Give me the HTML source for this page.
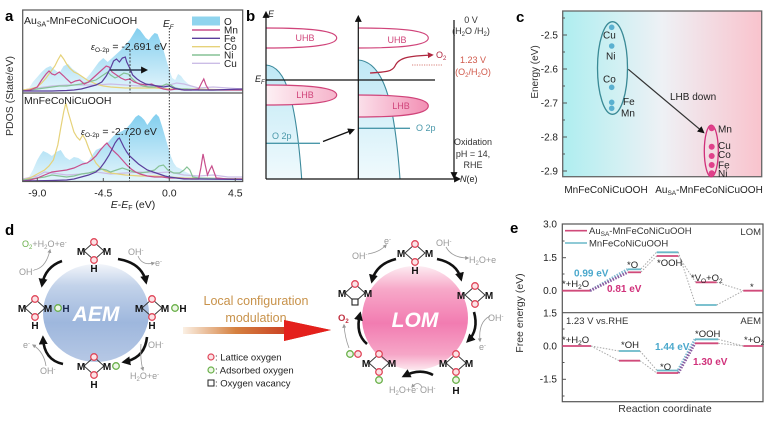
<!DOCTYPE html>
<html><head><meta charset="utf-8"><style>
html,body{margin:0;padding:0;background:#fff;}
svg{display:block;font-family:"Liberation Sans",Arial,sans-serif;}
</style></head><body>
<svg width="779" height="424" viewBox="0 0 779 424" xmlns="http://www.w3.org/2000/svg">
<defs>
  <linearGradient id="gO" x1="0" y1="0" x2="0" y2="1">
    <stop offset="0" stop-color="#6cc6ec"/><stop offset="1" stop-color="#dff3fb"/>
  </linearGradient>
  <linearGradient id="gBand" x1="0" y1="0" x2="0" y2="1">
    <stop offset="0" stop-color="#bfe8f5"/><stop offset="1" stop-color="#f0fafd"/>
  </linearGradient>
  <linearGradient id="gLHB1" x1="0" y1="0" x2="1" y2="0">
    <stop offset="0" stop-color="#fdf0f4"/><stop offset="1" stop-color="#f6b4cb"/>
  </linearGradient>
  <linearGradient id="gLHB2" x1="0" y1="0" x2="1" y2="0">
    <stop offset="0" stop-color="#fbe0ea"/><stop offset="1" stop-color="#f28fb4"/>
  </linearGradient>
  <linearGradient id="gC" x1="0" y1="0" x2="1" y2="0">
    <stop offset="0" stop-color="#aeeef0"/><stop offset="0.5" stop-color="#eef1f5"/><stop offset="1" stop-color="#f9c3cd"/>
  </linearGradient>
  <linearGradient id="gAEM" x1="0" y1="0" x2="0" y2="1">
    <stop offset="0" stop-color="#f2f5fa"/><stop offset="0.22" stop-color="#c3d3ea"/><stop offset="0.6" stop-color="#9eb7dd"/><stop offset="1" stop-color="#b6c8e5"/>
  </linearGradient>
  <linearGradient id="gLOM" x1="0" y1="0" x2="0" y2="1">
    <stop offset="0" stop-color="#fdecf2"/><stop offset="0.22" stop-color="#f7a9c9"/><stop offset="0.55" stop-color="#f27cb1"/><stop offset="0.85" stop-color="#f6a6c7"/><stop offset="1" stop-color="#fde8ef"/>
  </linearGradient>
  <linearGradient id="gArr" x1="183" y1="0" x2="300" y2="0" gradientUnits="userSpaceOnUse">
    <stop offset="0" stop-color="#fbf0e4"/><stop offset="0.45" stop-color="#d58140"/><stop offset="1" stop-color="#c8301c"/>
  </linearGradient>
  <clipPath id="clipA1"><rect x="23" y="10" width="219.5" height="83"/></clipPath>
  <clipPath id="clipA2"><rect x="23" y="93" width="219.5" height="88.5"/></clipPath>
  <marker id="ak" viewBox="0 0 10 10" refX="7" refY="5" markerWidth="7" markerHeight="7" markerUnits="userSpaceOnUse" orient="auto"><path d="M0,0 L10,5 L0,10 z" fill="#111"/></marker>
  <marker id="akb" viewBox="0 0 10 10" refX="7" refY="5" markerWidth="9" markerHeight="9" markerUnits="userSpaceOnUse" orient="auto"><path d="M0,0 L10,5 L0,10 z" fill="#111"/></marker>
  <marker id="ag" viewBox="0 0 10 10" refX="7" refY="5" markerWidth="4" markerHeight="4" markerUnits="userSpaceOnUse" orient="auto"><path d="M0,0 L10,5 L0,10 z" fill="#999"/></marker>
  <marker id="ar" viewBox="0 0 10 10" refX="7" refY="5" markerWidth="6" markerHeight="6" markerUnits="userSpaceOnUse" orient="auto"><path d="M0,0 L10,5 L0,10 z" fill="#b02840"/></marker>
</defs>

<!-- ================= PANEL A ================= -->
<text x="5" y="21" font-size="15" font-weight="bold">a</text>
<g clip-path="url(#clipA1)">
 <g transform="translate(169.3 0) scale(14.67 1)">
  <polygon fill="url(#gO)" opacity="0.85" points="-10,91.7 -9.6,89 -9.3,82 -9,77 -8.7,72 -8.4,68 -8.1,66 -7.8,70 -7.5,73 -7.2,66 -6.9,64 -6.6,69 -6.3,72 -6,76 -5.7,79 -5.4,74 -5.1,68 -4.8,62 -4.5,58 -4.2,62 -3.9,58 -3.6,54 -3.3,50 -3,45 -2.7,40 -2.4,33 -2.2,28 -2,30 -1.8,34 -1.6,38 -1.4,40 -1.2,36 -1,33 -0.8,34 -0.6,42 -0.4,50 -0.2,60 0,70 0.2,78 0.4,80 0.6,74 0.8,76 1,80 1.3,84 1.6,86 2,88 3,89 4,90 5,90.5 5,91.7"/>
  <g fill="none" stroke-width="1.2" vector-effect="non-scaling-stroke">
  <polyline vector-effect="non-scaling-stroke" stroke="#cbbde6" points="-10,90 -9,88 -8,86 -7,85 -6,85 -5,85 -4,84 -3,85 -2,86 -1,86 0,85 0.5,83 1,84 1.5,86 2,88 3,87 4,88 5,89"/>
  <polyline vector-effect="non-scaling-stroke" stroke="#e6d27a" points="-10,90 -9.5,89 -9,87 -8.7,83 -8.4,78 -8.1,72 -7.8,66 -7.6,60 -7.4,55 -7.2,59 -7,64 -6.8,68 -6.5,72 -6.2,74 -5.9,77 -5.6,80 -5.3,82 -5,84 -4.5,86 -4,87 -3,88 -2,88 -1,88 0,89 1,89 5,90"/>
  <polyline vector-effect="non-scaling-stroke" stroke="#86c296" points="-10,91 -9,89 -8.5,88 -8,87 -7.5,86 -7,86 -6.5,85 -6,84 -5.5,82 -5,80 -4.7,77 -4.4,74 -4.2,72 -4,75 -3.7,78 -3.4,76 -3.1,73 -2.8,74 -2.5,79 -2.2,83 -1.8,86 -1.4,87 -1,87 -0.5,86 -0.2,84 0.1,85 0.4,88 0.8,89 1.2,89 2,90 5,90"/>
  <polyline vector-effect="non-scaling-stroke" stroke="#c84e8c" points="-10,91 -9.5,90 -9,87 -8.7,80 -8.4,74 -8.2,71 -8,74 -7.8,75 -7.5,72 -7.2,76 -7,79 -6.7,83 -6.4,81 -6.1,80 -5.8,84 -5.5,82 -5.2,78 -4.9,74 -4.6,70 -4.3,66 -4.1,67 -3.9,72 -3.6,75 -3.3,78 -3,80 -2.7,79 -2.4,82 -2,84 -1.6,85 -1.2,84 -0.8,87 -0.4,89 0,90 0.5,89 1,90 1.5,90 2,89 2.2,83 2.35,79 2.5,85 2.7,90 3,90 4,90 5,90"/>
  <polyline vector-effect="non-scaling-stroke" stroke="#5a3e9c" points="-10,91 -8,91 -7,90.5 -6.5,90 -6,89 -5.5,87 -5,85 -4.6,82 -4.3,76 -4,68 -3.8,61 -3.6,59 -3.4,62 -3.2,58 -3,57 -2.9,62 -2.7,68 -2.5,75 -2.2,79 -2,81 -1.6,84 -1.2,85 -0.8,86 -0.4,87 0,86 0.3,88 0.6,89 1,90 2,90 3,90 4,89.5 5,89"/>
  </g>
 </g>
</g>
<g clip-path="url(#clipA2)">
 <g transform="translate(169.3 0) scale(14.67 1)">
  <polygon fill="url(#gO)" opacity="0.85" points="-10,181 -9.6,178 -9.3,170 -9,160 -8.8,155 -8.6,151 -8.3,153 -8,156 -7.7,152 -7.4,150 -7.1,157 -6.8,160 -6.5,157 -6.2,158 -5.9,161 -5.6,163 -5.3,156 -5,150 -4.7,148 -4.4,146 -4.1,141 -3.8,136 -3.5,133 -3.2,131 -2.9,128 -2.6,123 -2.3,117 -2.1,115 -1.9,117 -1.7,120 -1.5,125 -1.3,121 -1.1,117 -0.9,114 -0.7,117 -0.5,126 -0.3,136 -0.1,146 0.1,156 0.3,163 0.5,167 0.8,169 1,171 1.4,174 1.8,176 2.5,178 4,179 5,179.5 5,181"/>
  <g fill="none" stroke-width="1.2">
  <polyline vector-effect="non-scaling-stroke" stroke="#cbbde6" points="-10,179 -9,176 -8.5,172 -8,173 -7,175 -6,174 -5,172 -4,174 -3,173 -2,172 -1,173 0,172 1,175 2,176 3,175 4,177 5,177"/>
  <polyline vector-effect="non-scaling-stroke" stroke="#e6d27a" points="-10,180 -9.5,178 -9,174 -8.5,170 -8.2,166 -7.9,160 -7.6,145 -7.4,128 -7.2,112 -7.05,103 -6.9,112 -6.7,122 -6.5,132 -6.3,137 -6.1,140 -5.9,135 -5.7,140 -5.5,148 -5.3,155 -5,163 -4.7,168 -4.4,171 -4,173 -3,175 -2,176 -1,176 0,177 1,178 5,179"/>
  <polyline vector-effect="non-scaling-stroke" stroke="#86c296" points="-10,180 -9,178 -8.5,177 -8,175 -7.5,176 -7,177 -6.5,176 -6,174 -5.5,173 -5,171 -4.6,169 -4.3,170 -4,172 -3.6,170 -3.2,168 -2.8,170 -2.4,172 -2,173 -1.5,172 -1,170 -0.7,166 -0.4,165 -0.1,170 0.3,173 0.7,173 1,170 1.2,167 1.4,170 1.6,177 2,178 5,179"/>
  <polyline vector-effect="non-scaling-stroke" stroke="#c84e8c" points="-10,181 -9.5,180 -9,178 -8.5,175 -8,172 -7.5,171 -7,170 -6.5,168 -6.2,166 -5.9,164 -5.6,163 -5.3,160 -5,156 -4.7,150 -4.4,145 -4.25,143 -4.1,146 -3.8,151 -3.5,155 -3.2,160 -2.9,165 -2.6,169 -2.3,172 -2,174 -1.5,176 -1,177 -0.5,177 0,178 0.5,178 1,178.5 1.5,179 2,179 2.15,168 2.3,154 2.45,165 2.6,175 2.75,170 2.9,166 3.05,172 3.2,178 4,179 5,179"/>
  <polyline vector-effect="non-scaling-stroke" stroke="#5a3e9c" points="-10,181 -8,180.5 -7,180 -6.5,179 -6,177 -5.5,175 -5,172 -4.7,168 -4.4,162 -4.1,155 -3.9,149 -3.7,143 -3.5,139 -3.4,138 -3.3,141 -3.1,147 -2.9,152 -2.7,156 -2.4,160 -2.1,164 -1.8,167 -1.5,170 -1.1,172 -0.7,174 -0.3,176 0,177 0.5,178 1,179 2,179 5,179.5"/>
  </g>
 </g>
</g>
<!-- frame a -->
<rect x="22.7" y="10" width="220" height="171.5" fill="none" stroke="#555" stroke-width="1.2"/>
<line x1="22.7" y1="93" x2="242.7" y2="93" stroke="#555" stroke-width="1.2"/>
<line x1="169.3" y1="28" x2="169.3" y2="181" stroke="#222" stroke-width="0.9" stroke-dasharray="1.5,1.5"/>
<line x1="130" y1="50" x2="130" y2="93" stroke="#333" stroke-width="0.9" stroke-dasharray="2,1.5"/>
<line x1="129.5" y1="135" x2="129.5" y2="181" stroke="#333" stroke-width="0.9" stroke-dasharray="2,1.5"/>
<line x1="110" y1="70" x2="146" y2="70" stroke="#2a3a50" stroke-width="1.6" marker-end="url(#ak)"/>
<g stroke="#555" stroke-width="1">
 <line x1="37.3" y1="181.5" x2="37.3" y2="178"/><line x1="103.3" y1="181.5" x2="103.3" y2="178"/>
 <line x1="169.3" y1="181.5" x2="169.3" y2="178"/><line x1="235.3" y1="181.5" x2="235.3" y2="178"/>
</g>
<g font-size="10.5" fill="#222" text-anchor="middle">
 <text x="37.3" y="196.5">-9.0</text><text x="103.3" y="196.5">-4.5</text>
 <text x="169.3" y="196.5">0.0</text><text x="235.3" y="196.5">4.5</text>
</g>
<text x="133" y="208" font-size="10.5" text-anchor="middle" fill="#222"><tspan font-style="italic">E</tspan>-<tspan font-style="italic">E</tspan><tspan font-size="7" dy="2">F</tspan><tspan dy="-2"> (eV)</tspan></text>
<text transform="translate(13 96) rotate(-90)" font-size="10.5" text-anchor="middle" fill="#333">PDOS (State/eV)</text>
<text x="24" y="24" font-size="10.5" fill="#222">Au<tspan font-size="7" dy="2.5">SA</tspan><tspan dy="-2.5">-MnFeCoNiCuOOH</tspan></text>
<text x="24" y="104" font-size="10.5" fill="#222">MnFeCoNiCuOOH</text>
<text x="163" y="27" font-size="10" font-style="italic" fill="#222">E<tspan font-size="6.5" dy="2">F</tspan></text>
<text x="91" y="50" font-size="10.5" fill="#222"><tspan font-style="italic" font-size="9">ε</tspan><tspan font-size="6.5" dy="2">O-2p</tspan><tspan dy="-2"> = -2.691 eV</tspan></text>
<text x="81" y="135" font-size="10.5" fill="#222"><tspan font-style="italic" font-size="9">ε</tspan><tspan font-size="6.5" dy="2">O-2p</tspan><tspan dy="-2"> = -2.720 eV</tspan></text>
<!-- legend a -->
<rect x="192" y="16.5" width="28" height="9" fill="#8fd4ee"/>
<g stroke-width="1.4">
 <line x1="192" y1="30" x2="220" y2="30" stroke="#c84e8c"/>
 <line x1="192" y1="38.3" x2="220" y2="38.3" stroke="#5a3e9c"/>
 <line x1="192" y1="46.7" x2="220" y2="46.7" stroke="#e6d27a"/>
 <line x1="192" y1="55" x2="220" y2="55" stroke="#86c296"/>
 <line x1="192" y1="63.3" x2="220" y2="63.3" stroke="#cbbde6"/>
</g>
<g font-size="10" fill="#222">
 <text x="224" y="25">O</text><text x="224" y="33.5">Mn</text><text x="224" y="41.8">Fe</text>
 <text x="224" y="50.2">Co</text><text x="224" y="58.5">Ni</text><text x="224" y="66.8">Cu</text>
</g>

<!-- ================= PANEL B ================= -->
<text x="246" y="21" font-size="15" font-weight="bold">b</text>
<path d="M266,65 C286,66 296,100 301.7,179 L266,179 Z" fill="url(#gBand)"/>
<path d="M266,65 C286,66 296,100 301.7,179" fill="none" stroke="#3d8a9c" stroke-width="1.1"/>
<path d="M358.3,60 C386,62 395,110 400,179 L358.3,179 Z" fill="url(#gBand)"/>
<path d="M358.3,60 C386,62 395,110 400,179" fill="none" stroke="#3d8a9c" stroke-width="1.1"/>
<path d="M266,28 C305,28 336.7,30 336.7,38 C336.7,46 305,48 266,48" fill="#fff" stroke="#d0447a" stroke-width="1.2"/>
<path d="M266,85 C305,85 336.7,87 336.7,95 C336.7,103 305,105 266,105" fill="url(#gLHB1)" stroke="#d0447a" stroke-width="1.2"/>
<path d="M358.3,28 C397,28 428.3,30 428.3,38 C428.3,46 397,48 358.3,48" fill="#fff" stroke="#d0447a" stroke-width="1.2"/>
<path d="M358.3,95 C397,95 428.3,97 428.3,106 C428.3,115 397,117 358.3,117" fill="url(#gLHB2)" stroke="#d0447a" stroke-width="1.2"/>
<line x1="266" y1="143.3" x2="320" y2="143.3" stroke="#4a98aa" stroke-width="1.3"/>
<line x1="358.3" y1="128.3" x2="410" y2="128.3" stroke="#4a98aa" stroke-width="1.3"/>
<line x1="323" y1="141.5" x2="353" y2="130" stroke="#111" stroke-width="1.4" marker-end="url(#ak)"/>
<line x1="266" y1="80" x2="435" y2="80" stroke="#111" stroke-width="1.2"/>
<line x1="266" y1="179" x2="266" y2="13" stroke="#111" stroke-width="1.2" marker-end="url(#ak)"/>
<line x1="358.3" y1="179" x2="358.3" y2="17" stroke="#111" stroke-width="1.2" marker-end="url(#ak)"/>
<line x1="266" y1="179" x2="459" y2="179" stroke="#111" stroke-width="1.2" marker-end="url(#ak)"/>
<line x1="454" y1="20" x2="454" y2="177" stroke="#222" stroke-width="1.3" marker-end="url(#ak)"/>
<path d="M370,73 C385,72 392,72 395,66 C399,57 410,56 432,55" fill="none" stroke="#b02840" stroke-width="1.3" marker-end="url(#ar)"/>
<line x1="412" y1="65" x2="442" y2="65" stroke="#d8807a" stroke-width="1" stroke-dasharray="1.2,1.2"/>
<g font-size="9" fill="#d0447a" text-anchor="middle">
 <text x="305" y="41">UHB</text><text x="305" y="98">LHB</text>
 <text x="397" y="43">UHB</text><text x="401" y="109">LHB</text>
</g>
<g font-size="9" fill="#4a98aa">
 <text x="272" y="139">O 2p</text><text x="416" y="131">O 2p</text>
</g>
<text x="436" y="58" font-size="9" fill="#b02840">O<tspan font-size="6" dy="2">2</tspan></text>
<text x="268" y="17" font-size="9" font-style="italic" fill="#222">E</text>
<text x="255" y="82" font-size="9" font-style="italic" fill="#222">E<tspan font-size="6" dy="2">F</tspan></text>
<text x="460" y="182" font-size="9" fill="#222"><tspan font-style="italic">N</tspan>(e)</text>
<g font-size="9" fill="#333" text-anchor="middle">
 <text x="471" y="23">0 V</text>
 <text x="471" y="34">(H<tspan font-size="6" dy="2">2</tspan><tspan dy="-2">O /H</tspan><tspan font-size="6" dy="2">2</tspan><tspan dy="-2">)</tspan></text>
 <text x="473" y="63" fill="#d0584a">1.23 V</text>
 <text x="473" y="75" fill="#d0584a">(O<tspan font-size="6" dy="2">2</tspan><tspan dy="-2">/H</tspan><tspan font-size="6" dy="2">2</tspan><tspan dy="-2">O)</tspan></text>
 <text x="473" y="145">Oxidation</text>
 <text x="473" y="157">pH = 14,</text>
 <text x="473" y="168">RHE</text>
</g>

<!-- ================= PANEL C ================= -->
<text x="516" y="22" font-size="15" font-weight="bold">c</text>
<rect x="562.7" y="11" width="199" height="165.7" fill="url(#gC)" stroke="#666" stroke-width="1.3"/>
<g stroke="#555" stroke-width="1">
 <line x1="562.7" y1="35" x2="567" y2="35"/><line x1="562.7" y1="69" x2="567" y2="69"/>
 <line x1="562.7" y1="103" x2="567" y2="103"/><line x1="562.7" y1="137" x2="567" y2="137"/>
 <line x1="562.7" y1="171" x2="567" y2="171"/>
 <line x1="562.7" y1="18" x2="565" y2="18"/><line x1="562.7" y1="52" x2="565" y2="52"/>
 <line x1="562.7" y1="86" x2="565" y2="86"/><line x1="562.7" y1="120" x2="565" y2="120"/>
 <line x1="562.7" y1="154" x2="565" y2="154"/>
</g>
<g font-size="10" fill="#222" text-anchor="end">
 <text x="558" y="38.5">-2.5</text><text x="558" y="72.5">-2.6</text><text x="558" y="106.5">-2.7</text>
 <text x="558" y="140.5">-2.8</text><text x="558" y="174.5">-2.9</text>
</g>
<text transform="translate(538 72) rotate(-90)" font-size="10" text-anchor="middle" fill="#333">Energy (eV)</text>
<ellipse cx="612.5" cy="68" rx="15" ry="46.3" fill="none" stroke="#3a8a96" stroke-width="1.3"/>
<ellipse cx="711.3" cy="151" rx="7" ry="25.8" fill="none" stroke="#d0307a" stroke-width="1.3"/>
<g fill="#5ab0d0">
 <circle cx="611.7" cy="27.3" r="2.8"/><circle cx="611.7" cy="46" r="2.8"/><circle cx="611.7" cy="87.3" r="2.8"/>
 <circle cx="611.7" cy="102.3" r="2.8"/><circle cx="611.7" cy="108.3" r="2.8"/>
</g>
<g fill="#e0408a">
 <circle cx="711.7" cy="128.3" r="3"/><circle cx="711.7" cy="146.7" r="3"/><circle cx="711.7" cy="156" r="3"/>
 <circle cx="711.7" cy="165" r="3"/><circle cx="711.7" cy="173.3" r="3"/>
</g>
<g font-size="10" fill="#222">
 <text x="603" y="38.5">Cu</text><text x="606" y="59.5">Ni</text><text x="603" y="82.5">Co</text>
 <text x="623" y="105">Fe</text><text x="621" y="116.5">Mn</text>
 <text x="718" y="132.5">Mn</text><text x="718" y="149">Cu</text><text x="718" y="158">Co</text>
 <text x="718" y="168.5">Fe</text><text x="718" y="177">Ni</text>
</g>
<line x1="628.3" y1="69.3" x2="703" y2="132" stroke="#333" stroke-width="1.2" marker-end="url(#ak)"/>
<text x="670" y="100" font-size="10" fill="#222">LHB down</text>
<text x="606" y="193" font-size="10" fill="#222" text-anchor="middle">MnFeCoNiCuOOH</text>
<text x="709" y="193" font-size="10" fill="#222" text-anchor="middle">Au<tspan font-size="6.5" dy="2">SA</tspan><tspan dy="-2">-MnFeCoNiCuOOH</tspan></text>

<!-- ================= PANEL D ================= -->
<text x="5" y="235" font-size="15" font-weight="bold">d</text>
<ellipse cx="96" cy="313" rx="53" ry="49" fill="url(#gAEM)"/>
<text x="96" y="321" font-size="21" font-weight="bold" font-style="italic" fill="#fff" text-anchor="middle">AEM</text>
<!-- AEM arrows -->
<g fill="none" stroke="#111" stroke-width="2.6">
 <path d="M62,261 Q45,267 42,285" marker-end="url(#akb)"/>
 <path d="M118,259 Q142,263 146,282" marker-end="url(#akb)"/>
 <path d="M147,337 Q145,358 124,362" marker-end="url(#akb)"/>
 <path d="M63,364 Q44,360 43,338" marker-end="url(#akb)"/>
</g>
<g fill="none" stroke="#999" stroke-width="0.8">
 <path d="M34,270 Q46,268 50,250" marker-end="url(#ag)"/>
 <path d="M138,256 Q142,266 154,263" marker-end="url(#ag)"/>
 <path d="M141,344 Q140,360 143,370" marker-end="url(#ag)"/>
 <path d="M46,366 Q44,352 33,345" marker-end="url(#ag)"/>
</g>
<g font-size="9" fill="#999">
 <text x="22" y="247"><tspan fill="#6ab04a">O</tspan><tspan fill="#6ab04a" font-size="6" dy="2">2</tspan><tspan dy="-2">+H</tspan><tspan font-size="6" dy="2">2</tspan><tspan dy="-2">O+e</tspan><tspan font-size="6" dy="-3">-</tspan></text>
 <text x="19" y="275">OH<tspan font-size="6" dy="-3">-</tspan></text>
 <text x="128" y="255">OH<tspan font-size="6" dy="-3">-</tspan></text>
 <text x="155" y="266">e<tspan font-size="6" dy="-3">-</tspan></text>
 <text x="148" y="348">OH<tspan font-size="6" dy="-3">-</tspan></text>
 <text x="130" y="379">H<tspan font-size="6" dy="2">2</tspan><tspan dy="-2">O+e</tspan><tspan font-size="6" dy="-3">-</tspan></text>
 <text x="23" y="348">e<tspan font-size="6" dy="-3">-</tspan></text>
 <text x="40" y="374">OH<tspan font-size="6" dy="-3">-</tspan></text>
</g>
<!-- AEM molecules -->
<g stroke="#333" stroke-width="0.9" fill="none">
 <path d="M84,251 L94,242 L104,251 L94,260 Z"/>
 <path d="M25,308 L35,299 L45,308 L35,317 Z"/>
 <path d="M142,308 L152,299 L162,308 L152,317 Z"/>
 <path d="M84,366 L94,357 L104,366 L94,375 Z"/>
</g>
<g stroke="#e0475a" stroke-width="1.3" fill="#fbe3e6">
 <circle cx="94" cy="242" r="3.3"/><circle cx="94" cy="260" r="3.3"/>
 <circle cx="35" cy="299" r="3.3"/><circle cx="35" cy="317" r="3.3"/>
 <circle cx="152" cy="299" r="3.3"/><circle cx="152" cy="317" r="3.3"/>
 <circle cx="94" cy="357" r="3.3"/><circle cx="94" cy="375" r="3.3"/>
</g>
<g stroke="#6ab04a" stroke-width="1.3" fill="#eef7e6">
 <circle cx="58" cy="308" r="3.3"/><circle cx="175" cy="308" r="3.3"/><circle cx="116" cy="366" r="3.3"/>
</g>
<g font-size="10" font-weight="bold" fill="#111" text-anchor="middle">
 <text x="81" y="255">M</text><text x="107" y="255">M</text><text x="94" y="272">H</text>
 <text x="22" y="312">M</text><text x="48" y="312">M</text><text x="66" y="312" fill="#1a2a50">H</text><text x="35" y="329">H</text>
 <text x="139" y="312">M</text><text x="165" y="312">M</text><text x="183" y="312">H</text><text x="152" y="329">H</text>
 <text x="81" y="370">M</text><text x="107" y="370">M</text><text x="94" y="388">H</text>
</g>
<!-- middle arrow & text -->
<text x="256" y="305" font-size="12.5" fill="#c8924a" text-anchor="middle">Local configuration</text>
<text x="256" y="322" font-size="12.5" fill="#c8924a" text-anchor="middle">modulation</text>
<path d="M183,327 L284,327 L284,320 L331,330 L284,341 L284,334 L183,334 Z" fill="url(#gArr)"/>
<path d="M284,320 L331,330 L284,341 Z" fill="#e4201c"/>
<g font-size="9.5" fill="#222">
 <circle cx="211" cy="357" r="3" fill="#fbe3e6" stroke="#e0475a" stroke-width="1.2"/>
 <text x="215" y="360.5">: Lattice oxygen</text>
 <circle cx="211" cy="370" r="3" fill="#eef7e6" stroke="#6ab04a" stroke-width="1.2"/>
 <text x="215" y="373.5">: Adsorbed oxygen</text>
 <rect x="208" y="380" width="6" height="6" fill="#fff" stroke="#222" stroke-width="1"/>
 <text x="215" y="386.5">: Oxygen vacancy</text>
</g>
<!-- LOM -->
<ellipse cx="415" cy="318" rx="53" ry="52" fill="url(#gLOM)"/>
<text x="415" y="327" font-size="21" font-weight="bold" font-style="italic" fill="#fff" text-anchor="middle">LOM</text>
<g fill="none" stroke="#111" stroke-width="2.6">
 <path d="M396,259 Q376,264 372,281" marker-end="url(#akb)"/>
 <path d="M437,259 Q457,263 461,279" marker-end="url(#akb)"/>
 <path d="M474,312 Q479,330 468,341" marker-end="url(#akb)"/>
 <path d="M433,375 Q420,368 404,376" marker-end="url(#akb)"/>
 <path d="M367,344 Q355,334 360,314" marker-end="url(#akb)"/>
</g>
<g fill="none" stroke="#999" stroke-width="0.8">
 <path d="M368,254 Q380,252 386,245" marker-end="url(#ag)"/>
 <path d="M446,247 Q452,258 468,258" marker-end="url(#ag)"/>
 <path d="M490,316 Q478,322 480,341" marker-end="url(#ag)"/>
 <path d="M422,387 Q418,380 412,387" marker-end="url(#ag)"/>
 <path d="M349,348 Q345,338 344,325" marker-end="url(#ag)"/>
</g>
<g font-size="9" fill="#999">
 <text x="352" y="259">OH<tspan font-size="6" dy="-3">-</tspan></text>
 <text x="384" y="244">e<tspan font-size="6" dy="-3">-</tspan></text>
 <text x="436" y="246">OH<tspan font-size="6" dy="-3">-</tspan></text>
 <text x="469" y="263">H<tspan font-size="6" dy="2">2</tspan><tspan dy="-2">O+e</tspan></text>
 <text x="488" y="321">OH<tspan font-size="6" dy="-3">-</tspan></text>
 <text x="479" y="350">e<tspan font-size="6" dy="-3">-</tspan></text>
 <text x="389" y="393">H<tspan font-size="6" dy="2">2</tspan><tspan dy="-2">O+e</tspan><tspan font-size="6" dy="-3">-</tspan></text>
 <text x="420" y="393">OH<tspan font-size="6" dy="-3">-</tspan></text>
</g>
<text x="338" y="321" font-size="9.5" font-weight="bold" fill="#c03040">O<tspan font-size="6" dy="2">2</tspan></text>
<g stroke="#333" stroke-width="0.9" fill="none">
 <path d="M405,253 L415,244 L425,253 L415,262 Z"/>
 <path d="M465,295 L475,286 L485,295 L475,304 Z"/>
 <path d="M345,293 L355,284 L365,293 L355,302 Z"/>
 <path d="M369,363 L379,354 L389,363 L379,372 Z"/>
 <path d="M446,363 L456,354 L466,363 L456,372 Z"/>
</g>
<rect x="352" y="299" width="6" height="6" fill="#fff" stroke="#222" stroke-width="1.1"/>
<g stroke="#e0475a" stroke-width="1.3" fill="#fbe3e6">
 <circle cx="415" cy="244" r="3.3"/><circle cx="415" cy="262" r="3.3"/>
 <circle cx="475" cy="286" r="3.3"/><circle cx="475" cy="304" r="3.3"/>
 <circle cx="355" cy="284" r="3.3"/>
 <circle cx="379" cy="354" r="3.3"/><circle cx="379" cy="372" r="3.3"/>
 <circle cx="456" cy="354" r="3.3"/><circle cx="456" cy="372" r="3.3"/>
 <circle cx="358" cy="354" r="3.3"/>
</g>
<g stroke="#6ab04a" stroke-width="1.3" fill="#eef7e6">
 <circle cx="379" cy="380" r="3.3"/><circle cx="456" cy="380" r="3.3"/><circle cx="350" cy="354" r="3.3"/>
</g>
<g font-size="10" font-weight="bold" fill="#111" text-anchor="middle">
 <text x="401" y="257">M</text><text x="429" y="257">M</text><text x="415" y="274">H</text>
 <text x="461" y="299">M</text><text x="489" y="299">M</text>
 <text x="342" y="297">M</text><text x="368" y="297">M</text>
 <text x="366" y="367">M</text><text x="392" y="367">M</text>
 <text x="443" y="367">M</text><text x="469" y="367">M</text><text x="456" y="394">H</text>
</g>

<!-- ================= PANEL E ================= -->
<text x="510" y="233" font-size="15" font-weight="bold">e</text>
<rect x="562.3" y="224" width="200.7" height="177.7" fill="none" stroke="#555" stroke-width="1.2"/>
<line x1="562.3" y1="312.7" x2="763" y2="312.7" stroke="#555" stroke-width="1.2"/>
<g stroke="#555" stroke-width="1">
 <line x1="562.3" y1="257.7" x2="566" y2="257.7"/><line x1="562.3" y1="290.7" x2="566" y2="290.7"/>
 <line x1="562.3" y1="346" x2="566" y2="346"/><line x1="562.3" y1="379.3" x2="566" y2="379.3"/>
 <line x1="562.3" y1="241" x2="564.5" y2="241"/><line x1="562.3" y1="274" x2="564.5" y2="274"/>
 <line x1="562.3" y1="329" x2="564.5" y2="329"/><line x1="562.3" y1="362.5" x2="564.5" y2="362.5"/>
 <line x1="562.3" y1="396" x2="564.5" y2="396"/>
</g>
<g font-size="10" fill="#222" text-anchor="end">
 <text x="557" y="227.5">3.0</text><text x="557" y="261">1.5</text><text x="557" y="294">0.0</text>
 <text x="557" y="316.5">1.5</text><text x="557" y="349.5">0.0</text><text x="557" y="382.5">-1.5</text>
</g>
<text transform="translate(523 313) rotate(-90)" font-size="10.5" text-anchor="middle" fill="#333">Free energy (eV)</text>
<text x="665" y="412" font-size="10.5" text-anchor="middle" fill="#333">Reaction coordinate</text>
<!-- legend e -->
<line x1="565" y1="230.7" x2="587" y2="230.7" stroke="#d04a7a" stroke-width="1.6"/>
<line x1="565" y1="243" x2="587" y2="243" stroke="#6ab8c8" stroke-width="1.6"/>
<text x="589" y="234" font-size="9.5" fill="#333">Au<tspan font-size="6.5" dy="2">SA</tspan><tspan dy="-2">-MnFeCoNiCuOOH</tspan></text>
<text x="589" y="246.5" font-size="9.5" fill="#333">MnFeCoNiCuOOH</text>
<text x="761" y="235" font-size="9.5" fill="#333" text-anchor="end">LOM</text>
<text x="566" y="324" font-size="9.5" fill="#333">1.23 V vs.RHE</text>
<text x="761" y="324" font-size="9.5" fill="#333" text-anchor="end">AEM</text>
<!-- connectors -->
<g stroke="#a8a8a8" stroke-width="1" stroke-dasharray="1.5,1.5" fill="none">
 <line x1="641" y1="272" x2="656.7" y2="256"/><line x1="641" y1="269" x2="656.7" y2="252"/>
 <line x1="678.3" y1="256" x2="695.7" y2="282.3"/><line x1="678.3" y1="252" x2="695.7" y2="305"/>
 <line x1="716.7" y1="282.3" x2="743.3" y2="290.7"/><line x1="716.7" y1="305" x2="743.3" y2="290.7"/>
 <line x1="591" y1="346" x2="619" y2="351"/><line x1="591" y1="346" x2="619" y2="360.7"/>
 <line x1="640" y1="351" x2="656.7" y2="370"/><line x1="640" y1="360.7" x2="656.7" y2="373"/>
 <line x1="718.3" y1="339.3" x2="743.3" y2="346"/><line x1="718.3" y1="343.3" x2="743.3" y2="346"/>
</g>
<g stroke-width="2.8" stroke-dasharray="1.5,1.3" fill="none">
 <line x1="590" y1="290.7" x2="627.7" y2="269.3" stroke="#7fb8d0"/>
 <line x1="590" y1="290.7" x2="627.7" y2="272.3" stroke="#8a5aa0"/>
 <line x1="678.3" y1="370" x2="695" y2="339.3" stroke="#7fb8d0"/>
 <line x1="678.3" y1="373" x2="695" y2="343.3" stroke="#8a5aa0"/>
</g>
<!-- levels -->
<g stroke-width="1.8">
 <line x1="562.3" y1="290.7" x2="590" y2="290.7" stroke="#d04a7a"/>
 <line x1="627.7" y1="269.3" x2="641" y2="269.3" stroke="#6ab8c8"/>
 <line x1="627.7" y1="272.3" x2="641" y2="272.3" stroke="#d04a7a"/>
 <line x1="656.7" y1="252.3" x2="678.3" y2="252.3" stroke="#6ab8c8"/>
 <line x1="656.7" y1="256" x2="678.3" y2="256" stroke="#d04a7a"/>
 <line x1="695.7" y1="282.3" x2="716.7" y2="282.3" stroke="#d04a7a"/>
 <line x1="695.7" y1="305" x2="716.7" y2="305" stroke="#6ab8c8"/>
 <line x1="743.3" y1="290.7" x2="763" y2="290.7" stroke="#d04a7a"/>
 <line x1="562.3" y1="346" x2="591" y2="346" stroke="#d04a7a"/>
 <line x1="619" y1="351" x2="640" y2="351" stroke="#6ab8c8"/>
 <line x1="619" y1="360.7" x2="640" y2="360.7" stroke="#d04a7a"/>
 <line x1="656.7" y1="370.5" x2="678.3" y2="370.5" stroke="#6ab8c8"/>
 <line x1="656.7" y1="373" x2="678.3" y2="373" stroke="#d04a7a"/>
 <line x1="695" y1="339.3" x2="718.3" y2="339.3" stroke="#6ab8c8"/>
 <line x1="695" y1="343.3" x2="718.3" y2="343.3" stroke="#d04a7a"/>
 <line x1="743.3" y1="346" x2="763" y2="346" stroke="#d04a7a"/>
</g>
<g font-size="9.5" fill="#222">
 <text x="562" y="287">*+H<tspan font-size="6.5" dy="2">2</tspan><tspan dy="-2">O</tspan></text>
 <text x="627" y="268">*O</text>
 <text x="657" y="266">*OOH</text>
 <text x="691" y="281">*V<tspan font-size="6.5" dy="2">O</tspan><tspan dy="-2">+O</tspan><tspan font-size="6.5" dy="2">2</tspan></text>
 <text x="750" y="290">*</text>
 <text x="562" y="343">*+H<tspan font-size="6.5" dy="2">2</tspan><tspan dy="-2">O</tspan></text>
 <text x="621" y="348">*OH</text>
 <text x="660" y="370">*O</text>
 <text x="695" y="337">*OOH</text>
 <text x="744" y="343">*+O<tspan font-size="6.5" dy="2">2</tspan></text>
</g>
<g font-size="10" font-weight="bold">
 <text x="574" y="276.5" fill="#4aa8cc">0.99 eV</text>
 <text x="607" y="292" fill="#d0307a">0.81 eV</text>
 <text x="655" y="350" fill="#4aa8cc">1.44 eV</text>
 <text x="693" y="365" fill="#d0307a">1.30 eV</text>
</g>
</svg>
</body></html>
